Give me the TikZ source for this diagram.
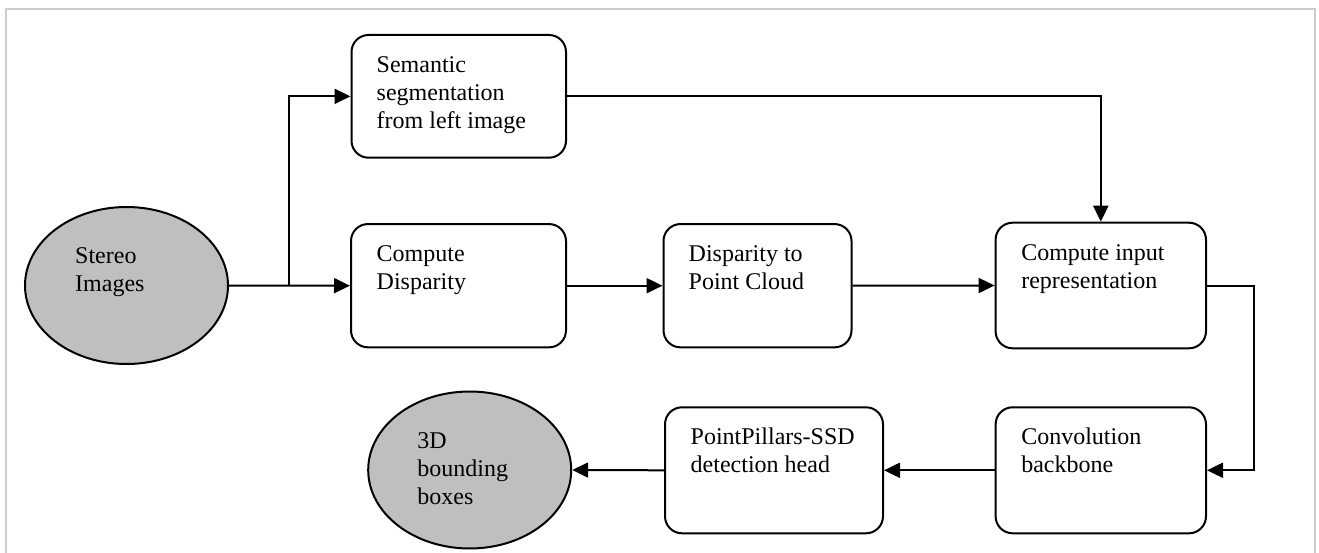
\documentclass[tikz,border=0pt]{standalone}
\usepackage{fontspec}
\setmainfont{Liberation Serif}
\usetikzlibrary{arrows.meta,shapes.geometric,calc}
\definecolor{framegray}{RGB}{204,204,204}
\definecolor{nodegray}{RGB}{191,191,191}
\begin{document}
\begin{tikzpicture}[x=1pt,y=-1pt,
  box/.style={draw, line width=2pt, rounded corners=17pt, inner sep=0pt, fill=white},
  blob/.style={ellipse, draw, line width=2pt, fill=nodegray, inner sep=0pt,
    minimum width=203pt, minimum height=157pt},
  txt/.style={anchor=base west, inner sep=0pt, font=\fontsize{24}{28}\selectfont},
  arr/.style={line width=2pt, -{Triangle[length=16pt,width=15pt]}}]
\useasboundingbox (0,0) rectangle (1319,553);
% frame
\draw[framegray, line width=2pt] (6,553) -- (6,9) -- (1314.7,9) -- (1314.7,553);
% nodes
\node[blob] (stereo) at (126.5,285.5) {};
\node[blob] (bb) at (469.7,470) {};
\node[box, minimum width=214.5pt, minimum height=122.7pt] (sem) at (458.75,96.35) {};
\node[box, minimum width=215pt, minimum height=123.3pt] (cd) at (458.5,285.7) {};
\node[box, minimum width=188pt, minimum height=123.3pt] (dpc) at (757.5,285.7) {};
\node[box, minimum width=210.4pt, minimum height=125.6pt] (cir) at (1100.8,285.5) {};
\node[box, minimum width=210.4pt, minimum height=126pt] (conv) at (1100.8,470.3) {};
\node[box, minimum width=218pt, minimum height=126pt] (pp) at (774,470.3) {};
% texts
\node[txt] (stereot) at ($(stereo.west)+(51,-21.5)$) {\begin{tabular}[t]{@{}l@{}}Stereo\\Images\end{tabular}};
\node[txt] (bbt) at ($(bb.west)+(50,-22)$) {\begin{tabular}[t]{@{}l@{}}3D\\bounding\\boxes\end{tabular}};
\node[txt] (semt) at ($(sem.north west)+(26,38.5)$) {\begin{tabular}[t]{@{}l@{}}Semantic\\segmentation\\from left image\end{tabular}};
\node[txt] (cdt) at ($(cd.north west)+(26.5,38.5)$) {\begin{tabular}[t]{@{}l@{}}Compute\\Disparity\end{tabular}};
\node[txt] (dpct) at ($(dpc.north west)+(26,38.5)$) {\begin{tabular}[t]{@{}l@{}}Disparity to\\Point Cloud\end{tabular}};
\node[txt] (cirt) at ($(cir.north west)+(26.5,38.5)$) {\begin{tabular}[t]{@{}l@{}}Compute input\\representation\end{tabular}};
\node[txt] (convt) at ($(conv.north west)+(26.5,38.5)$) {\begin{tabular}[t]{@{}l@{}}Convolution\\backbone\end{tabular}};
\node[txt] (ppt) at ($(pp.north west)+(26.5,38.5)$) {\begin{tabular}[t]{@{}l@{}}PointPillars-SSD\\detection head\end{tabular}};
% connectors
\coordinate (j) at (289.3,285.5);
\coordinate (r) at (1253.7,285.5);
\draw[arr] (stereo.east) -- (cd.west);
\draw[arr] (j) |- (sem.west);
\draw[arr] (sem.east) -| (cir.north);
\draw[arr] (cd.east) -- (dpc.west);
\draw[arr] (dpc.east) -- (cir.west);
\draw[arr] (cir.east) -- (r) |- (conv.east);
\draw[arr] (conv.west) -- (pp.east);
\draw[arr] (pp.west) -- (bb.east);
\end{tikzpicture}
\end{document}
